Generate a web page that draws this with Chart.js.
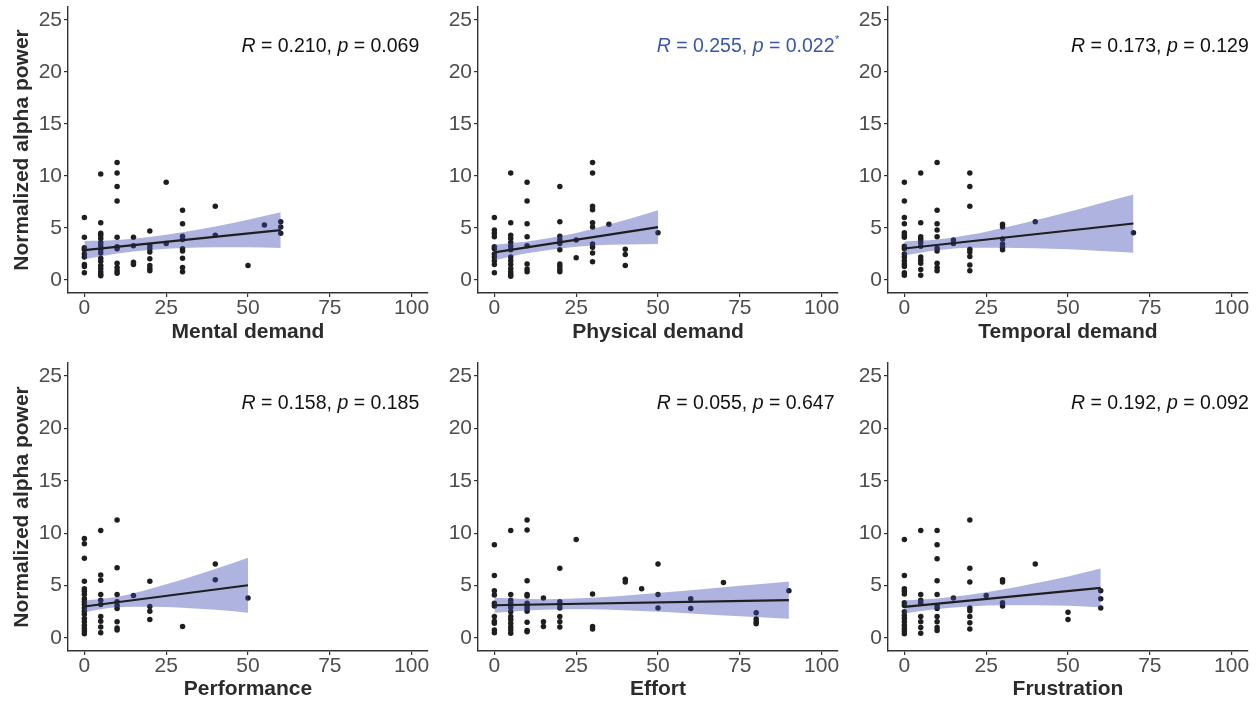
<!DOCTYPE html>
<html><head><meta charset="utf-8">
<script src="https://cdn.jsdelivr.net/npm/chart.js@4.4.0/dist/chart.umd.min.js"></script>
<style>
html,body{margin:0;padding:0;background:#fff;width:1259px;height:709px;overflow:hidden;position:relative;}
canvas{position:absolute;}
</style></head><body>
<canvas id="c0" width="432" height="350" style="left:0px;top:0px"></canvas>
<canvas id="c1" width="432" height="350" style="left:410px;top:0px"></canvas>
<canvas id="c2" width="432" height="350" style="left:820px;top:0px"></canvas>
<canvas id="c3" width="432" height="352" style="left:0px;top:356px"></canvas>
<canvas id="c4" width="432" height="352" style="left:410px;top:356px"></canvas>
<canvas id="c5" width="432" height="352" style="left:820px;top:356px"></canvas>
<script>
// ---------- tick labels / text ----------
const xTicks = [0, 25, 50, 75, 100];
const yTicks = [0, 5, 10, 15, 20, 25];
const panelTitles = ['Mental demand', 'Physical demand', 'Temporal demand', 'Performance', 'Effort', 'Frustration'];
const yTitle = 'Normalized alpha power';
const rValues = ['0.210', '0.255', '0.173', '0.158', '0.055', '0.192'];
const pValues = ['0.069', '0.022', '0.129', '0.185', '0.647', '0.092'];
const significant = [false, true, false, false, false, false];

// ---------- Mental demand ----------
const mentalLevels = [0, 5, 10, 15, 20, 25, 30, 40, 50, 55, 60];
const mentalAlpha = [
  [6.0, 4.1, 3.1, 2.9, 2.5, 2.2, 1.5, 1.3, 0.7],
  [10.2, 5.5, 4.5, 4.3, 4.0, 3.6, 3.3, 2.9, 2.6, 2.1, 1.8, 1.4, 1.1, 0.8, 0.55, 0.4],
  [11.3, 10.3, 9.0, 7.6, 4.1, 3.2, 3.0, 1.6, 1.2, 0.9, 0.65],
  [4.1, 3.3, 1.7, 1.5],
  [4.7, 3.3, 3.0, 2.7, 2.05, 1.4, 1.1, 0.9],
  [9.4, 3.5],
  [6.7, 5.4, 4.2, 3.9, 3.0, 2.8, 2.1, 1.2, 0.8],
  [7.1, 4.3],
  [1.4],
  [5.3],
  [5.6, 5.1, 4.5]
];
const mentalFitX = [0, 10, 20, 30, 40, 50, 60];
const mentalFit = [2.87, 3.19, 3.51, 3.83, 4.15, 4.47, 4.79];
const mentalHi = [3.74, 3.84, 4.13, 4.58, 5.15, 5.80, 6.51];
const mentalLo = [2.00, 2.54, 2.89, 3.08, 3.15, 3.14, 3.07];

// ---------- Physical demand ----------
const physicalLevels = [0, 5, 10, 20, 25, 30, 35, 40, 50];
const physicalAlpha = [
  [6.0, 4.8, 4.5, 4.15, 3.2, 3.0, 2.5, 2.2, 1.85, 1.5, 0.7],
  [10.3, 5.5, 4.3, 4.0, 3.6, 3.25, 2.9, 2.2, 1.85, 1.5, 1.1, 0.8, 0.55, 0.35],
  [9.4, 7.6, 5.4, 4.15, 3.3, 1.55, 1.05, 0.8],
  [9.0, 5.6, 4.2, 3.85, 3.5, 2.9, 1.55, 1.3, 1.0, 0.8],
  [3.85, 2.15],
  [11.3, 10.3, 7.1, 6.75, 5.5, 5.1, 3.45, 3.15, 2.6, 1.75],
  [5.35],
  [2.95, 2.45, 1.4],
  [4.55]
];
const physicalFitX = [0, 10, 20, 30, 40, 50];
const physicalFit = [2.65, 3.14, 3.62, 4.11, 4.59, 5.08];
const physicalHi = [3.40, 3.71, 4.20, 4.91, 5.77, 6.71];
const physicalLo = [1.90, 2.57, 3.04, 3.31, 3.41, 3.45];

// ---------- Temporal demand ----------
const temporalLevels = [0, 5, 10, 15, 20, 30, 40, 70];
const temporalAlpha = [
  [9.4, 7.6, 6.0, 5.4, 4.55, 4.3, 4.1, 3.25, 3.0, 2.5, 2.2, 1.85, 1.55, 1.3, 0.7, 0.45],
  [10.3, 5.5, 4.15, 3.9, 3.6, 3.25, 2.2, 1.9, 1.6, 1.0, 0.45],
  [11.3, 6.7, 5.4, 4.8, 4.15, 3.05, 2.8, 1.6, 1.2, 0.9],
  [3.85, 3.5],
  [10.3, 9.0, 7.1, 2.95, 2.7, 2.25, 1.45, 0.9],
  [5.35, 5.1, 3.95, 3.45, 3.15, 2.9],
  [5.6],
  [4.55]
];
const temporalFitX = [0, 10, 20, 30, 40, 50, 60, 70];
const temporalFit = [3.03, 3.37, 3.72, 4.06, 4.40, 4.75, 5.09, 5.43];
const temporalHi = [3.71, 3.89, 4.34, 5.01, 5.75, 6.55, 7.39, 8.23];
const temporalLo = [2.35, 2.85, 3.10, 3.11, 3.05, 2.95, 2.79, 2.63];

// ---------- Performance ----------
const performanceLevels = [0, 5, 10, 15, 20, 30, 40, 50];
const performanceAlpha = [
  [9.5, 9.0, 7.6, 5.4, 4.7, 4.45, 4.15, 3.75, 3.45, 3.2, 2.85, 2.55, 2.25, 1.85, 1.55, 1.2, 0.9, 0.65, 0.4],
  [10.25, 6.0, 5.5, 4.15, 3.6, 3.2, 2.05, 1.6, 1.05, 0.5],
  [11.25, 6.7, 4.15, 3.45, 3.1, 2.8, 1.55, 0.95, 0.75],
  [4.05],
  [5.4, 3.0, 2.55, 1.75],
  [1.1],
  [7.05, 5.55],
  [3.8]
];
const performanceFitX = [0, 10, 20, 30, 40, 50];
const performanceFit = [3.00, 3.42, 3.83, 4.23, 4.63, 5.03];
const performanceHi = [3.55, 3.92, 4.68, 5.58, 6.58, 7.65];
const performanceLo = [2.45, 2.92, 2.98, 2.88, 2.68, 2.41];

// ---------- Effort ----------
const effortLevels = [0, 5, 10, 15, 20, 25, 30, 40, 45, 50, 60, 70, 80, 90];
const effortAlpha = [
  [8.9, 5.95, 4.5, 4.1, 3.3, 3.05, 2.05, 1.6, 1.4, 0.75, 0.5],
  [10.25, 4.15, 3.6, 3.3, 2.9, 2.5, 2.05, 1.75, 1.4, 1.05, 0.75, 0.45],
  [11.25, 10.3, 5.45, 4.15, 4.0, 3.3, 3.05, 2.8, 2.55, 1.5, 0.7, 0.6],
  [3.8, 1.55, 1.1],
  [6.65, 3.45, 3.2, 2.85, 2.05, 1.55, 1.05],
  [9.4],
  [4.2, 1.1, 0.85],
  [5.6, 5.35],
  [4.7],
  [7.05, 4.15, 2.85],
  [3.75, 2.8],
  [5.3],
  [2.4, 1.8, 1.55, 1.35],
  [4.5]
];
const effortFitX = [0, 15, 30, 45, 60, 75, 90];
const effortFit = [3.12, 3.20, 3.28, 3.36, 3.44, 3.52, 3.60];
const effortHi = [3.84, 3.70, 3.83, 4.16, 4.54, 4.97, 5.38];
const effortLo = [2.40, 2.70, 2.73, 2.56, 2.34, 2.07, 1.82];

// ---------- Frustration ----------
const frustrationLevels = [0, 5, 10, 15, 20, 25, 30, 40, 50, 60];
const frustrationAlpha = [
  [9.4, 5.95, 4.7, 4.45, 4.2, 3.35, 3.1, 2.5, 2.15, 1.85, 1.55, 1.2, 0.9, 0.65, 0.4],
  [10.25, 4.15, 3.6, 3.35, 2.05, 1.55, 1.0, 0.45],
  [10.25, 8.9, 7.55, 5.45, 4.15, 3.05, 2.8, 2.05, 1.55, 1.0, 0.7],
  [3.8],
  [11.25, 6.65, 5.35, 2.85, 2.6, 2.05, 1.45, 0.85],
  [4.05],
  [5.55, 5.35, 3.35, 3.05],
  [7.05],
  [2.45, 1.75],
  [4.5, 3.75, 2.85]
];
const frustrationFitX = [0, 10, 20, 30, 40, 50, 60];
const frustrationFit = [2.96, 3.26, 3.56, 3.87, 4.17, 4.47, 4.77];
const frustrationHi = [3.58, 3.76, 4.11, 4.62, 5.22, 5.87, 6.62];
const frustrationLo = [2.34, 2.76, 3.01, 3.12, 3.12, 3.07, 2.92];

// ---------- assemble ----------
const panels = [
  {levels: mentalLevels, alpha: mentalAlpha, fx: mentalFitX, fit: mentalFit, hi: mentalHi, lo: mentalLo},
  {levels: physicalLevels, alpha: physicalAlpha, fx: physicalFitX, fit: physicalFit, hi: physicalHi, lo: physicalLo},
  {levels: temporalLevels, alpha: temporalAlpha, fx: temporalFitX, fit: temporalFit, hi: temporalHi, lo: temporalLo},
  {levels: performanceLevels, alpha: performanceAlpha, fx: performanceFitX, fit: performanceFit, hi: performanceHi, lo: performanceLo},
  {levels: effortLevels, alpha: effortAlpha, fx: effortFitX, fit: effortFit, hi: effortHi, lo: effortLo},
  {levels: frustrationLevels, alpha: frustrationAlpha, fx: frustrationFitX, fit: frustrationFit, hi: frustrationHi, lo: frustrationLo}
];
const labelAnchorX = [48, 49.6, 50.9, 48, 49.6, 50.9];
const labelAnchorY = 22.4;

const FONT = '"Liberation Sans", Arial, sans-serif';
const corPlugin = {
  id: 'corLabel',
  afterDatasetsDraw(chart, args, o) {
    const ctx = chart.ctx;
    let px = chart.scales.x.getPixelForValue(o.x);
    const py = chart.scales.y.getPixelForValue(o.y);
    ctx.save();
    ctx.fillStyle = o.color;
    ctx.textBaseline = 'middle';
    ctx.textAlign = 'left';
    const parts = [['R', true], [' = ' + o.r + ', ', false], ['p', true], [' = ' + o.p, false]];
    for (const [t, it] of parts) {
      ctx.font = (it ? 'italic ' : '') + '19.5px ' + FONT;
      ctx.fillText(t, px, py);
      px += ctx.measureText(t).width;
    }
    if (o.sig) {
      ctx.font = '11px ' + FONT;
      ctx.fillText('*', px + 0.5, py - 7);
    }
    ctx.restore();
  }
};

panels.forEach((p, i) => {
  const pts = [];
  p.levels.forEach((lv, j) => p.alpha[j].forEach(v => pts.push({x: lv, y: v})));
  const toXY = arr => arr.map((v, k) => ({x: p.fx[k], y: v}));
  const leftCol = (i % 3 === 0);
  const bandColor = 'rgba(58,72,178,0.41)';
  new Chart(document.getElementById('c' + i), {
    type: 'scatter',
    data: {
      datasets: [
        {type: 'scatter', data: pts, pointRadius: 2.75, pointBorderWidth: 0, backgroundColor: '#1e1e1e', borderColor: '#1e1e1e', order: 4},
        {type: 'line', data: toXY(p.lo), borderWidth: 0, pointRadius: 0, fill: false, cubicInterpolationMode: 'monotone', borderColor: 'rgba(0,0,0,0)', order: 3},
        {type: 'line', data: toXY(p.hi), borderWidth: 0, pointRadius: 0, fill: '-1', backgroundColor: bandColor, cubicInterpolationMode: 'monotone', borderColor: 'rgba(0,0,0,0)', order: 2},
        {type: 'line', data: [{x: p.fx[0], y: p.fit[0]}, {x: p.fx[p.fx.length - 1], y: p.fit[p.fit.length - 1]}], borderWidth: 2.2, borderColor: '#1f1f1f', pointRadius: 0, fill: false, order: 1}
      ]
    },
    options: {
      responsive: false,
      animation: false,
      devicePixelRatio: 1,
      layout: {padding: {top: 7, right: 4, left: 0, bottom: 0}},
      plugins: {
        legend: {display: false},
        tooltip: {enabled: false},
        corLabel: {x: labelAnchorX[i], y: labelAnchorY, r: rValues[i], p: pValues[i], sig: significant[i], color: significant[i] ? '#3a56a8' : '#111111'}
      },
      scales: {
        x: {
          type: 'linear', min: -5, max: 105,
          afterBuildTicks: s => { s.ticks = xTicks.map(v => ({value: v})); },
          afterFit: s => { s.height = 57; s.paddingLeft = 0; s.paddingRight = 0; },
          grid: {display: true, drawOnChartArea: false, drawTicks: true, tickLength: 4, color: '#333333', lineWidth: 1.2},
          border: {display: true, color: '#333333', width: 1.4},
          ticks: {font: {family: FONT, size: 21}, color: '#4d4d4d', padding: -1, maxRotation: 0},
          title: {display: true, text: panelTitles[i], font: {family: FONT, size: 21, weight: 'bold'}, color: '#2b2b2b', padding: {top: 0, bottom: i < 3 ? 5 : 6}}
        },
        y: {
          type: 'linear', min: -1.25, max: 26.25,
          afterBuildTicks: s => { s.ticks = yTicks.map(v => ({value: v})); },
          afterFit: s => { s.width = 68; s.paddingTop = 0; s.paddingBottom = 0; },
          grid: {display: true, drawOnChartArea: false, drawTicks: true, tickLength: 4, color: '#333333', lineWidth: 1.2},
          border: {display: true, color: '#333333', width: 1.4},
          ticks: {font: {family: FONT, size: 21}, color: '#4d4d4d', padding: 2},
          title: {display: leftCol, text: yTitle, font: {family: FONT, size: 21, weight: 'bold'}, color: '#2b2b2b', padding: {top: 10, bottom: 0}}
        }
      }
    },
    plugins: [corPlugin]
  });
});
</script>
</body></html>
